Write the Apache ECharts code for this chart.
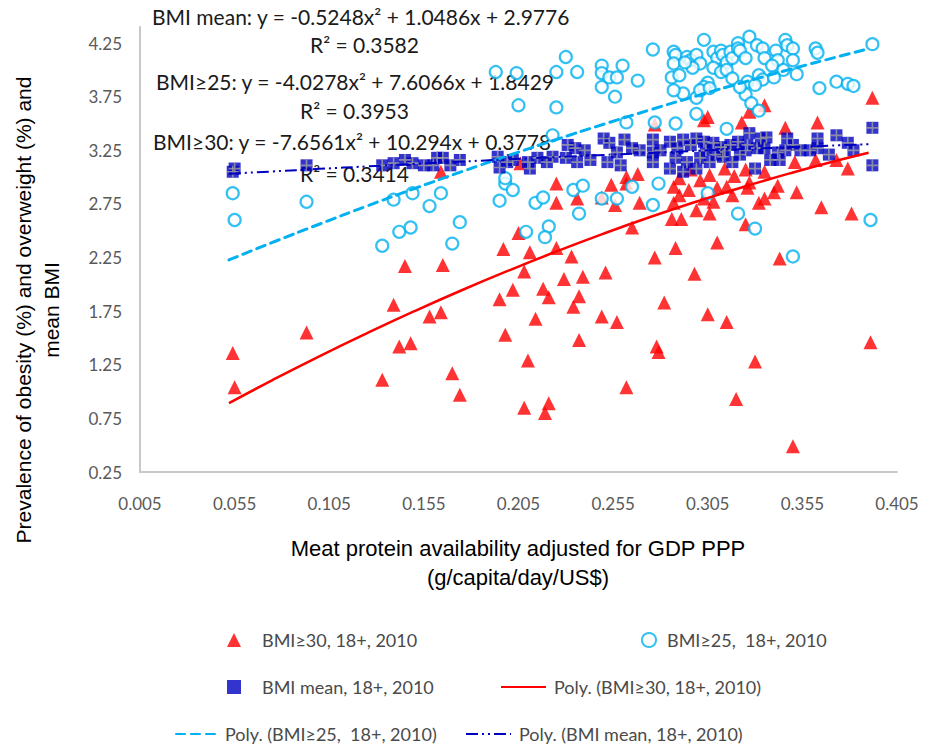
<!DOCTYPE html>
<html><head><meta charset="utf-8">
<script src="https://cdn.jsdelivr.net/npm/echarts@6/dist/echarts.min.js"></script>
<style>html,body{margin:0;padding:0;background:#fff}#c{width:932px;height:749px}</style>
</head><body><div id="c"></div>
<script>
// ---- data ----
const xTicks = [0.005, 0.055, 0.105, 0.155, 0.205, 0.255, 0.305, 0.355, 0.405];
const yTicks = [0.25, 0.75, 1.25, 1.75, 2.25, 2.75, 3.25, 3.75, 4.25];

const obese30 = [
[0.054,1.36],[0.055,1.04],[0.093,1.55],[0.133,1.11],[0.139,1.81],[0.142,1.42],[0.148,1.45],[0.145,2.17],
[0.165,2.18],[0.158,1.70],[0.164,1.74],[0.170,1.17],[0.174,0.97],[0.198,1.53],[0.210,1.29],[0.208,0.85],
[0.221,0.89],[0.219,0.80],[0.197,2.33],[0.205,2.48],[0.211,2.30],[0.208,2.12],[0.202,1.95],[0.195,1.86],
[0.218,1.96],[0.221,1.88],[0.214,1.68],[0.225,2.34],[0.225,2.76],[0.225,2.94],[0.233,2.26],[0.229,2.05],
[0.239,2.07],[0.237,1.89],[0.234,1.79],[0.251,2.11],[0.249,1.70],[0.257,1.65],[0.265,2.53],[0.277,2.25],
[0.282,1.83],[0.288,2.34],[0.298,2.10],[0.305,1.72],[0.315,1.65],[0.310,2.39],[0.286,2.61],[0.291,2.61],
[0.299,2.69],[0.306,2.66],[0.269,2.76],[0.256,2.74],[0.249,2.81],[0.236,2.80],[0.287,2.76],[0.290,2.83],
[0.295,2.88],[0.287,2.91],[0.254,2.93],[0.262,2.94],[0.303,2.80],[0.308,2.77],[0.310,2.90],[0.315,2.91],
[0.318,2.83],[0.237,1.48],[0.278,1.42],[0.279,1.37],[0.262,1.04],[0.320,0.93],[0.330,1.28],[0.391,1.46],
[0.350,0.49],[0.327,2.95],[0.326,2.90],[0.342,2.92],[0.340,2.86],[0.352,2.86],[0.335,2.80],[0.332,2.76],
[0.365,2.72],[0.381,2.66],[0.325,2.56],[0.343,2.24],[0.335,3.67],[0.327,3.61],[0.323,3.51],[0.346,3.46],
[0.363,3.51],[0.392,3.74],[0.351,3.14],[0.362,3.16],[0.373,3.16],[0.379,3.08],[0.305,3.56],[0.303,3.53],
[0.277,3.49],[0.268,3.03],[0.262,3.00],[0.164,3.05],[0.206,3.13],[0.296,3.07],[0.306,3.02],[0.314,3.08],
[0.325,3.07],[0.335,3.05],[0.290,2.99],[0.301,2.97],[0.319,3.01]
];

const overweight25 = [
[0.054,2.85],[0.055,2.60],[0.093,2.77],[0.133,2.36],[0.139,2.79],[0.149,2.85],[0.158,2.73],[0.164,2.85],
[0.142,2.49],[0.148,2.53],[0.174,2.58],[0.170,2.38],[0.198,2.94],[0.202,2.88],[0.195,2.78],[0.214,2.76],
[0.218,2.81],[0.221,2.54],[0.219,2.44],[0.209,2.49],[0.234,2.88],[0.239,2.92],[0.237,2.66],[0.249,2.80],
[0.257,2.80],[0.265,2.91],[0.276,2.74],[0.279,2.94],[0.305,2.85],[0.321,2.66],[0.330,2.52],[0.350,2.26],
[0.391,2.60],[0.193,3.98],[0.204,3.97],[0.205,3.67],[0.225,3.98],[0.225,3.65],[0.223,3.39],[0.198,2.99],
[0.230,4.12],[0.236,3.98],[0.249,4.04],[0.249,3.97],[0.253,3.93],[0.257,3.93],[0.260,4.04],[0.268,3.90],
[0.249,3.84],[0.256,3.75],[0.276,4.19],[0.287,4.17],[0.288,4.14],[0.287,4.06],[0.286,3.93],[0.290,3.95],
[0.292,3.78],[0.287,3.81],[0.299,3.74],[0.299,3.59],[0.288,3.50],[0.277,3.51],[0.262,3.51],[0.315,3.45],
[0.303,4.28],[0.321,4.25],[0.294,4.12],[0.296,4.09],[0.299,4.14],[0.301,4.06],[0.297,4.02],[0.293,4.07],
[0.308,4.17],[0.310,4.11],[0.312,4.18],[0.313,4.14],[0.315,4.07],[0.317,4.17],[0.318,4.11],[0.321,4.20],
[0.308,4.02],[0.312,3.98],[0.315,4.00],[0.318,3.92],[0.305,3.88],[0.303,3.84],[0.301,3.81],[0.306,3.83],
[0.327,4.31],[0.322,4.18],[0.325,4.11],[0.331,4.23],[0.334,4.20],[0.335,4.11],[0.341,4.18],[0.342,4.09],
[0.339,4.04],[0.346,4.28],[0.347,4.23],[0.350,4.20],[0.350,4.09],[0.345,4.00],[0.352,3.96],[0.362,4.20],
[0.363,4.16],[0.392,4.24],[0.364,3.83],[0.373,3.89],[0.379,3.87],[0.382,3.85],[0.332,3.95],[0.334,3.91],
[0.340,3.93],[0.326,3.89],[0.330,3.86],[0.325,3.77],[0.328,3.69],[0.332,3.62],[0.322,3.84]
];

const bmiMean = [
[0.054,3.05],[0.055,3.08],[0.093,3.11],[0.133,3.11],[0.139,3.13],[0.145,3.16],[0.149,3.13],[0.155,3.11],
[0.160,3.11],[0.162,3.18],[0.165,3.18],[0.169,3.11],[0.194,3.19],[0.195,3.09],[0.199,3.14],[0.202,3.16],
[0.210,3.14],[0.211,3.08],[0.215,3.18],[0.220,3.14],[0.223,3.19],[0.231,3.30],[0.235,3.27],[0.230,3.18],
[0.236,3.14],[0.250,3.36],[0.253,3.32],[0.257,3.23],[0.252,3.14],[0.259,3.11],[0.265,3.27],[0.269,3.25],
[0.276,3.35],[0.276,3.23],[0.276,3.14],[0.285,3.33],[0.289,3.27],[0.292,3.35],[0.296,3.30],[0.299,3.36],
[0.303,3.33],[0.308,3.32],[0.312,3.28],[0.317,3.30],[0.321,3.33],[0.288,3.18],[0.294,3.14],[0.301,3.18],
[0.306,3.14],[0.313,3.19],[0.318,3.14],[0.285,3.08],[0.292,3.05],[0.299,3.08],[0.327,3.41],[0.333,3.36],
[0.336,3.37],[0.326,3.30],[0.331,3.27],[0.347,3.36],[0.350,3.30],[0.363,3.36],[0.373,3.39],[0.379,3.32],
[0.392,3.46],[0.392,3.11],[0.363,3.27],[0.354,3.25],[0.343,3.16],[0.330,3.08],[0.382,3.25],[0.342,3.23],
[0.322,3.21],[0.240,3.25],[0.243,3.16],[0.261,3.35],[0.280,3.25],[0.304,3.25],[0.309,3.21],[0.314,3.25],
[0.325,3.25],[0.335,3.27],[0.338,3.16],[0.346,3.25],[0.359,3.25],[0.369,3.21],[0.174,3.16]
];

// trend lines
const trendX = [0.052, 0.075, 0.1, 0.125, 0.15, 0.175, 0.2, 0.225, 0.25, 0.275, 0.3, 0.325, 0.35, 0.375, 0.39];
const trend30 = [0.892, 1.107, 1.331, 1.545, 1.750, 1.945, 2.130, 2.306, 2.473, 2.630, 2.777, 2.915, 3.043, 3.162, 3.228];
const trend25 = [2.228, 2.391, 2.563, 2.731, 2.893, 3.051, 3.203, 3.351, 3.493, 3.630, 3.762, 3.890, 4.012, 4.129, 4.197];
const trendMean = [3.031, 3.053, 3.077, 3.100, 3.123, 3.145, 3.166, 3.187, 3.207, 3.226, 3.245, 3.263, 3.280, 3.297, 3.307];

const names = ['BMI≥30, 18+, 2010', 'BMI≥25,  18+, 2010', 'BMI mean, 18+, 2010',
  'Poly. (BMI≥30, 18+, 2010)', 'Poly. (BMI≥25,  18+, 2010)', 'Poly. (BMI mean, 18+, 2010)'];
const equations = [
  'BMI mean: y = -0.5248x² + 1.0486x + 2.9776', 'R² = 0.3582',
  'BMI≥25: y = -4.0278x² + 7.6066x + 1.8429', 'R² = 0.3953',
  'BMI≥30: y = -7.6561x² + 10.294x + 0.3778', 'R² = 0.3414'];
const xTitle = 'Meat protein availability adjusted for GDP PPP\n(g/capita/day/US$)';
const yTitle = 'Prevalence of obesity (%) and overweight (%) and\nmean BMI';

// ---- chart ----
const zip = (xs, ys) => xs.map((x, i) => [x, ys[i]]);
const RED = '#FF0000', CYAN = '#00B0F0', BLUE = '#0000C0';
const lab = { fontFamily: 'Lato', fontSize: 17, color: '#595959' };

const chart = echarts.init(document.getElementById('c'), null, { renderer: 'svg' });
const eqPos = [[152, 6], [310, 34], [156, 71], [300, 100], [153, 131], [300, 163]];

function leg(name, left, cy, w, pad, isLine) {
  const o = { data: [name], left: left, top: cy - 11, itemWidth: w, itemHeight: 14, padding: 0,
    selectedMode: false,
    textStyle: { fontFamily: 'Lato', fontSize: 18, color: '#4a4a4a', padding: [0, 0, 0, pad] } };
  if (isLine) o.itemStyle = { opacity: 0 };
  return o;
}

chart.setOption({
  animation: false,
  backgroundColor: '#fff',
  grid: { left: 140, right: 35, top: 27, bottom: 277 },
  xAxis: {
    type: 'value', min: 0.005, max: 0.405,
    axisLine: { show: true, lineStyle: { color: '#C8C8C8', width: 2 } },
    axisTick: { show: false },
    splitLine: { show: false },
    axisLabel: { customValues: xTicks, margin: 23, ...lab }
  },
  yAxis: {
    type: 'value', min: 0.25, max: 4.4,
    axisLine: { show: true, lineStyle: { color: '#C8C8C8', width: 2 } },
    axisTick: { show: false },
    splitLine: { show: false },
    axisLabel: { customValues: yTicks, margin: 18, ...lab }
  },
  legend: [
    leg(names[0], 227, 642, 14, 16, false),
    leg(names[1], 641, 642, 14, 6, false),
    leg(names[2], 227, 689, 14, 16, false),
    leg(names[3], 500, 689, 45, 3, true),
    leg(names[4], 175, 736, 43, 1, true),
    leg(names[5], 465, 736, 45, 3, true)
  ],
  graphic: [
    ...equations.map((t, i) => ({ type: 'text', left: eqPos[i][0], top: eqPos[i][1],
      style: { text: t, font: '21px Lato', fill: '#1a1a1a' } })),
    { type: 'text', x: 518, y: 563, style: { text: xTitle, font: '22px "Liberation Sans"', fill: '#000',
      align: 'center', verticalAlign: 'middle', lineHeight: 29 } },
    { type: 'text', x: 37, y: 310, rotation: Math.PI / 2, style: { text: yTitle, font: '21px "Liberation Sans"',
      fill: '#000', align: 'center', verticalAlign: 'middle', lineHeight: 28 } }
  ],
  series: [
    { name: names[0], type: 'scatter', data: obese30, symbol: 'triangle', symbolSize: 14,
      itemStyle: { color: RED } },
    { name: names[1], type: 'scatter', data: overweight25, symbol: 'circle', symbolSize: 12,
      itemStyle: { color: '#fff', borderColor: CYAN, borderWidth: 2.2 } },
    { name: names[2], type: 'scatter', data: bmiMean, symbol: 'rect', symbolSize: 12,
      itemStyle: { color: BLUE } },
    { name: 'meanGrid', type: 'scatter', data: bmiMean, symbolSize: 12, silent: true,
      symbol: 'path://M4.3,0h1.4v4.3h4.3v1.4h-4.3v4.3h-1.4v-4.3h-4.3v-1.4h4.3z',
      itemStyle: { color: '#A0A0A0' } },
    { name: names[3], type: 'line', data: zip(trendX, trend30), smooth: true, symbol: 'none',
      lineStyle: { color: RED, width: 2.5 }, itemStyle: { color: RED } },
    { name: names[4], type: 'line', data: zip(trendX, trend25), smooth: true, symbol: 'none',
      lineStyle: { color: CYAN, width: 3, type: [9, 6], cap: 'round' }, itemStyle: { color: CYAN } },
    { name: names[5], type: 'line', data: zip(trendX, trendMean), smooth: true, symbol: 'none',
      lineStyle: { color: BLUE, width: 2, type: [12, 4, 2, 4, 2, 4] }, itemStyle: { color: BLUE } }
  ]
});
</script>
</body></html>
